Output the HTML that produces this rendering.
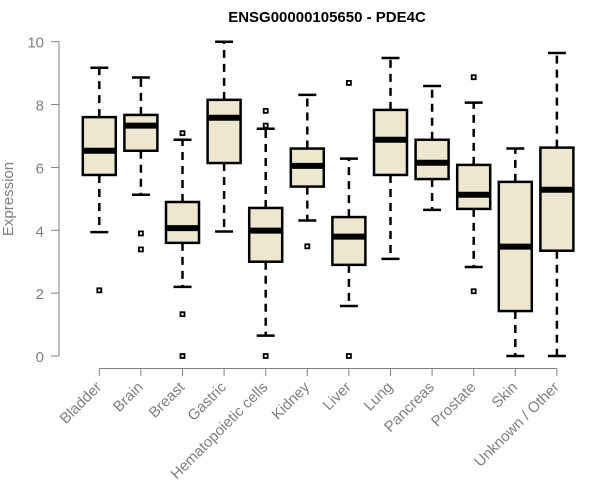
<!DOCTYPE html>
<html><head><meta charset="utf-8"><style>
body{margin:0;background:#fff}
svg{display:block;font-family:"Liberation Sans",sans-serif}
</style></head><body>
<svg id="chart" width="600" height="500">
<text x="327" y="22" text-anchor="middle" font-weight="bold" font-size="15">ENSG00000105650 - PDE4C</text>
<text transform="translate(13,199) rotate(-90)" text-anchor="middle" font-size="15" fill="#808080">Expression</text>
<g id="axes"></g><g id="boxes"></g>
</svg>
<script>
const categories=["Bladder","Brain","Breast","Gastric","Hematopoietic cells","Kidney","Liver","Lung","Pancreas","Prostate","Skin","Unknown / Other"];
const whiskerLow=[3.94,5.13,2.2,3.96,0.65,4.31,1.59,3.09,4.65,2.83,0,0];
const q1=[5.76,6.53,3.6,6.14,3.0,5.39,2.9,5.76,5.63,4.68,1.43,3.35];
const medians=[6.53,7.33,4.07,7.58,3.99,6.05,3.8,6.88,6.15,5.13,3.48,5.29];
const q3=[7.6,7.67,4.9,8.15,4.71,6.6,4.42,7.83,6.88,6.08,5.54,6.63];
const whiskerHigh=[9.17,8.86,6.88,10,7.23,8.31,6.28,9.48,8.59,8.06,6.6,9.64];
const outliers=[[2.09],[3.9,3.39],[7.09,1.33,0],[],[7.8,7.33,0],[3.49],[8.69,0],[],[],[8.87,2.06],[],[]];
const yTicks=[0,2,4,6,8,10];
const NS="http://www.w3.org/2000/svg";
const y=v=>356-v*31.43;
const x=i=>99.3+i*41.6;
function mk(tag,attrs,parent){const e=document.createElementNS(NS,tag);for(const k in attrs)e.setAttribute(k,attrs[k]);parent.appendChild(e);return e;}
const ax=document.getElementById('axes'),bx=document.getElementById('boxes');
let l=mk('line',{x1:59,x2:59,y1:y(0),y2:y(10),stroke:'#808080'},ax);


yTicks.forEach(t=>{
 const tk=mk('line',{x1:51,x2:59,y1:y(t),y2:y(t),stroke:'#808080'},ax);
 
 
 const tx=mk('text',{x:44,y:y(t)+6,'text-anchor':'end','font-size':15,fill:'#808080'},ax);
 tx.textContent=t;
 
 
});
l=mk('line',{x1:x(0),x2:x(categories.length-1),y1:368.5,y2:368.5,stroke:'#808080'},ax);


categories.forEach((c,i)=>{
 const cx=x(i);
 const tk=mk('line',{x1:cx,x2:cx,y1:368.5,y2:376,stroke:'#808080'},ax);
 
 
 const tx=mk('text',{transform:`translate(${cx+3},${388}) rotate(-45)`,'text-anchor':'end','font-size':15,fill:'#808080'},ax);
 tx.textContent=c;
 
 
 const g=mk('g',{},bx);
 
 
 mk('line',{x1:cx,x2:cx,y1:y(q3[i]),y2:y(whiskerHigh[i]),stroke:'#000','stroke-width':2.5,'stroke-dasharray':'8,6'},g);
 mk('line',{x1:cx,x2:cx,y1:y(q1[i]),y2:y(whiskerLow[i]),stroke:'#000','stroke-width':2.5,'stroke-dasharray':'8,6'},g);
 mk('line',{x1:cx-9,x2:cx+9,y1:y(whiskerHigh[i]),y2:y(whiskerHigh[i]),stroke:'#000','stroke-width':2.5},g);
 mk('line',{x1:cx-9,x2:cx+9,y1:y(whiskerLow[i]),y2:y(whiskerLow[i]),stroke:'#000','stroke-width':2.5},g);
 mk('rect',{x:cx-16.5,y:y(q3[i]),width:33,height:y(q1[i])-y(q3[i]),fill:'#ede8cd',stroke:'#000','stroke-width':2.5},g);
 mk('line',{x1:cx-16.5,x2:cx+16.5,y1:y(medians[i]),y2:y(medians[i]),stroke:'#000','stroke-width':6},g);
 outliers[i].forEach(o=>{
  const p=mk('rect',{x:cx-2,y:y(o)-2,width:4,height:4,fill:'#fff',stroke:'#000','stroke-width':1.8},g);
  
  
 });
});
</script>
</body></html>
